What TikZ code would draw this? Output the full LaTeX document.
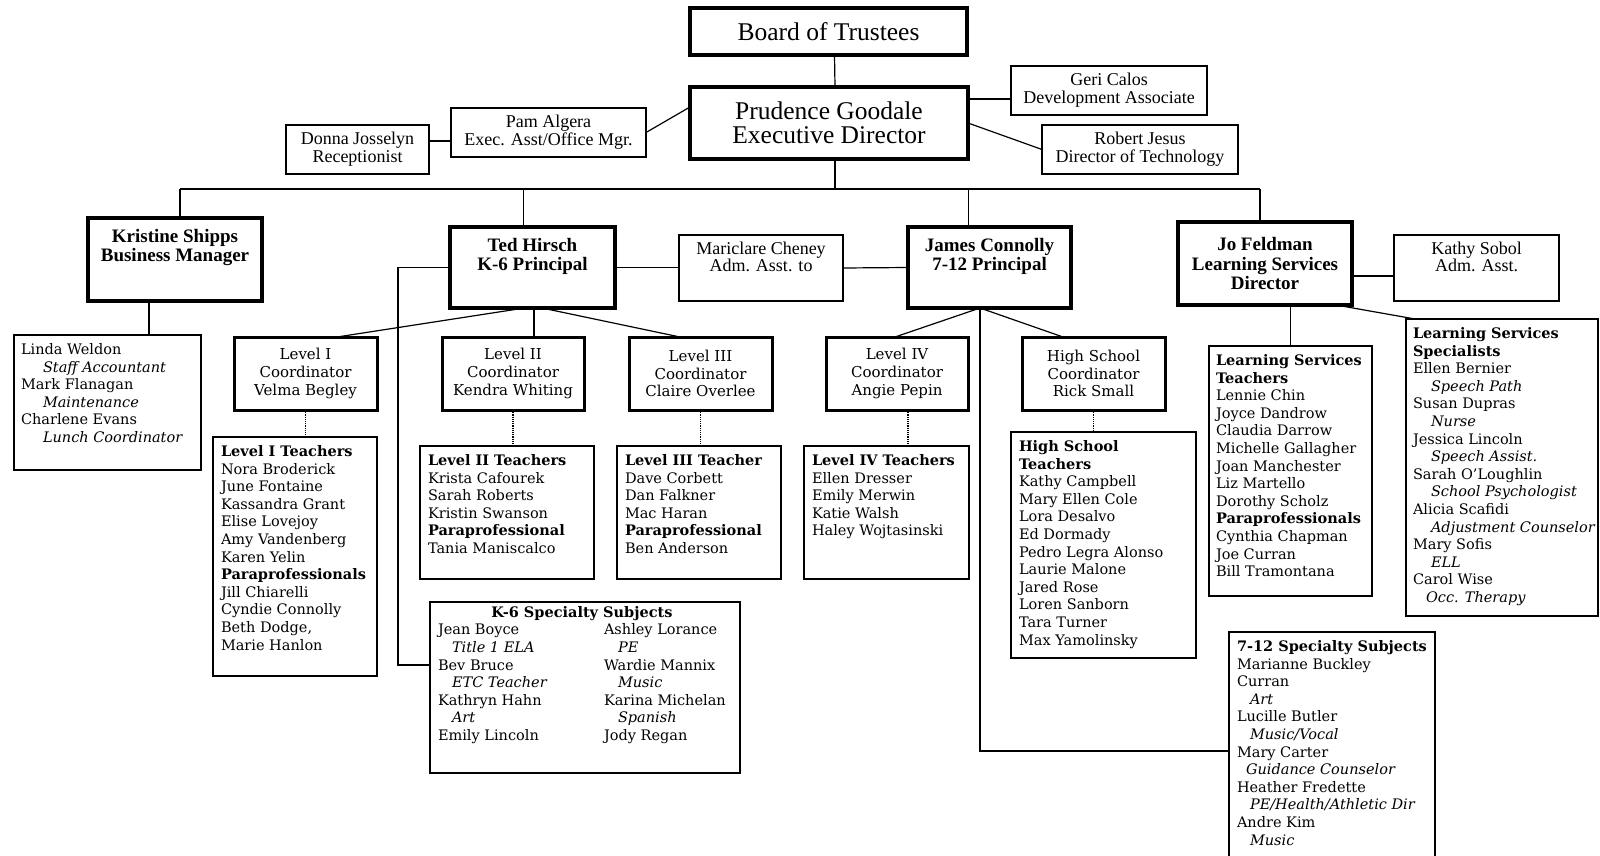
\documentclass[tikz,border=0pt]{standalone}
\usepackage{fontspec}
\setmainfont{Liberation Serif}
\newfontfamily\listfont{DejaVu Serif}
\usepackage{tikz}
\newcommand{\duty}[2][14pt]{\hspace*{#1}\textit{#2}}

\begin{document}
\begin{tikzpicture}[
    x=1pt, y=-1pt,
    every node/.style={outer sep=0pt},
    topbox/.style={rectangle, draw, line width=4pt, anchor=north west, align=center, inner sep=0pt, font=\fontsize{25.5}{24.5}\selectfont},
    headbox/.style={rectangle, draw, line width=3.3pt, anchor=north west, align=center, inner sep=0pt, font=\bfseries\fontsize{19}{19.5}\selectfont},
    thinbox/.style={rectangle, draw, line width=1.4pt, anchor=north west, align=center, inner sep=0pt, font=\fontsize{18}{18}\selectfont},
    coordbox/.style={rectangle, draw, line width=3pt, anchor=north west, align=center, inner sep=0pt, font=\listfont\fontsize{15}{17.6}\selectfont},
    listbox/.style={rectangle, draw, line width=2pt, anchor=north west, inner sep=0pt},
    headtxt/.style={anchor=north, align=center, inner xsep=0pt, inner ysep=11pt, font=\bfseries\fontsize{19}{19.5}\selectfont},
    thintxt/.style={anchor=north, align=center, inner xsep=0pt, inner ysep=7.5pt, font=\fontsize{18}{17}\selectfont},
    listtxt/.style={anchor=north west, align=left, inner xsep=8pt, inner ysep=8.5pt, font=\listfont\fontsize{14.5}{17.6}\selectfont},
    link/.style={line width=1.2pt},
    dotlink/.style={line width=1.2pt, densely dotted}
]
\useasboundingbox (0,0) rectangle (1600,856);

\node[topbox, minimum width=277pt, minimum height=47pt] (board) at (690,8) {Board of Trustees};
\node[topbox, minimum width=278pt, minimum height=72pt] (exec) at (690,87) {Prudence Goodale\\Executive Director};
\node[thinbox, minimum width=195pt, minimum height=49pt] (pam) at (451,108) {Pam Algera\\Exec. Asst/Office Mgr.};
\node[thinbox, minimum width=143pt, minimum height=49pt] (donna) at (286,125) {Donna Josselyn\\Receptionist};
\node[thinbox, minimum width=196pt, minimum height=49pt] (geri) at (1011,66) {Geri Calos\\Development Associate};
\node[thinbox, minimum width=196pt, minimum height=49pt] (robert) at (1042,125) {Robert Jesus\\Director of Technology};

\node[headbox, minimum width=174pt, minimum height=83pt] (kris) at (88,218) {};
\node[headtxt] (kris-t) at (kris.north) {Kristine Shipps\\Business Manager};
\node[headbox, minimum width=165pt, minimum height=81pt] (ted) at (450,227) {};
\node[headtxt] (ted-t) at (ted.north) {Ted Hirsch\\K-6 Principal};
\node[thinbox, minimum width=164pt, minimum height=66pt] (mari) at (679,235) {};
\node[thintxt] (mari-t) at (mari.north) {Mariclare Cheney\\Adm. Asst. to};
\node[headbox, minimum width=163pt, minimum height=81pt] (james) at (908,227) {};
\node[headtxt] (james-t) at (james.north) {James Connolly\\7-12 Principal};
\node[headbox, minimum width=174pt, minimum height=83pt] (jo) at (1178,222) {Jo Feldman\\Learning Services\\Director};
\node[thinbox, minimum width=165pt, minimum height=66pt] (kathy) at (1394,235) {};
\node[thintxt] (kathy-t) at (kathy.north) {Kathy Sobol\\Adm. Asst.};

\node[listbox, line width=1.4pt, minimum width=187pt, minimum height=135pt] (linda) at (14,335) {};
\node[listtxt, inner xsep=7pt] (linda-t) at (linda.north west) {Linda Weldon\\\duty[22pt]{Staff Accountant}\\Mark Flanagan\\\duty[22pt]{Maintenance}\\Charlene Evans\\\duty[22pt]{Lunch Coordinator}};

\node[coordbox, minimum width=143pt, minimum height=73pt] (lvl1) at (234,337) {Level I\\Coordinator\\Velma Begley};
\node[coordbox, minimum width=142pt, minimum height=73pt] (lvl2) at (442,337) {Level II\\Coordinator\\Kendra Whiting};
\node[coordbox, minimum width=143pt, minimum height=73pt] (lvl3) at (629,337) {Level III\\Coordinator\\Claire Overlee};
\node[coordbox, minimum width=142pt, minimum height=73pt] (lvl4) at (826,337) {Level IV\\Coordinator\\Angie Pepin};
\node[coordbox, minimum width=143pt, minimum height=73pt] (hsc) at (1022,337) {High School\\Coordinator\\Rick Small};

\node[listbox, minimum width=164pt, minimum height=239pt] (lvl1t) at (213,437) {};
\node[listtxt] (lvl1t-t) at (lvl1t.north west) {\textbf{Level I Teachers}\\Nora Broderick\\June Fontaine\\Kassandra Grant\\Elise Lovejoy\\Amy Vandenberg\\Karen Yelin\\\textbf{Paraprofessionals}\\Jill Chiarelli\\Cyndie Connolly\\Beth Dodge,\\Marie Hanlon};
\node[listbox, minimum width=174pt, minimum height=133pt] (lvl2t) at (420,446) {};
\node[listtxt] (lvl2t-t) at (lvl2t.north west) {\textbf{Level II Teachers}\\Krista Cafourek\\Sarah Roberts\\Kristin Swanson\\\textbf{Paraprofessional}\\Tania Maniscalco};
\node[listbox, minimum width=164pt, minimum height=133pt] (lvl3t) at (617,446) {};
\node[listtxt] (lvl3t-t) at (lvl3t.north west) {\textbf{Level III Teacher}\\Dave Corbett\\Dan Falkner\\Mac Haran\\\textbf{Paraprofessional}\\Ben Anderson};
\node[listbox, minimum width=165pt, minimum height=133pt] (lvl4t) at (804,446) {};
\node[listtxt] (lvl4t-t) at (lvl4t.north west) {\textbf{Level IV Teachers}\\Ellen Dresser\\Emily Merwin\\Katie Walsh\\Haley Wojtasinski};
\node[listbox, minimum width=185pt, minimum height=226pt] (hst) at (1011,432) {};
\node[listtxt] (hst-t) at (hst.north west) {\textbf{High School}\\\textbf{Teachers}\\Kathy Campbell\\Mary Ellen Cole\\Lora Desalvo\\Ed Dormady\\Pedro Legra Alonso\\Laurie Malone\\Jared Rose\\Loren Sanborn\\Tara Turner\\Max Yamolinsky};
\node[listbox, minimum width=163pt, minimum height=250pt] (lst) at (1209,346) {};
\node[listtxt, inner xsep=7pt] (lst-t) at (lst.north west) {\textbf{Learning Services}\\\textbf{Teachers}\\Lennie Chin\\Joyce Dandrow\\Claudia Darrow\\Michelle Gallagher\\Joan Manchester\\Liz Martello\\Dorothy Scholz\\\textbf{Paraprofessionals}\\Cynthia Chapman\\Joe Curran\\Bill Tramontana};
\node[listbox, minimum width=192pt, minimum height=297pt] (lss) at (1406,319) {};
\node[listtxt, inner xsep=7pt] (lss-t) at (lss.north west) {\textbf{Learning Services}\\\textbf{Specialists}\\Ellen Bernier\\\duty[18pt]{Speech Path}\\Susan Dupras\\\duty[18pt]{Nurse}\\Jessica Lincoln\\\duty[18pt]{Speech Assist.}\\Sarah O’Loughlin\\\duty[18pt]{School Psychologist}\\Alicia Scafidi\\\duty[18pt]{Adjustment Counselor}\\Mary Sofis\\\duty[18pt]{ELL}\\Carol Wise\\\duty[13pt]{Occ. Therapy}};

\node[listbox, line width=2.3pt, minimum width=310pt, minimum height=171pt] (k6) at (430,602) {};
\node[listtxt, inner ysep=3pt] (k6-t) at (k6.north west) {\begin{tabular}{@{}p{166pt}@{}l@{}}
\multicolumn{2}{c}{\textbf{K-6 Specialty Subjects}}\\
Jean Boyce & Ashley Lorance\\
\duty{Title 1 ELA} & \duty{PE}\\
Bev Bruce & Wardie Mannix\\
\duty{ETC Teacher} & \duty{Music}\\
Kathryn Hahn & Karina Michelan\\
\duty{Art} & \duty{Spanish}\\
Emily Lincoln & Jody Regan
\end{tabular}};
\node[listbox, minimum width=206pt, minimum height=238pt] (s712) at (1229,632) {};
\node[listtxt] (s712-t) at (s712.north west) {\textbf{7-12 Specialty Subjects}\\Marianne Buckley\\Curran\\\duty[13pt]{Art}\\Lucille Butler\\\duty[13pt]{Music/Vocal}\\Mary Carter\\\duty[9pt]{Guidance Counselor}\\Heather Fredette\\\duty[13pt]{PE/Health/Athletic Dir}\\Andre Kim\\\duty[13pt]{Music}};

\draw[link] ([xshift=6pt]board.south) -- ([xshift=6pt]exec.north);
\draw[link] ([yshift=8.5pt]donna.east) -- ([yshift=-8.5pt]pam.west);
\draw[link] (pam.east) -- ([yshift=16pt]exec.west);
\draw[link] ([yshift=24pt]exec.east) -- ([yshift=-8.5pt]geri.west);
\draw[link] (exec.east) -- (robert.west);

\coordinate (busl) at (180,189);
\coordinate (busr) at (1260,189);
\draw[link] ([xshift=6pt]exec.south) -- ([xshift=6pt]exec.south |- busl);
\draw[link] (busl) -- (busr);
\draw[link] (busl) -- (busl |- kris.north);
\draw[link] ([xshift=-9pt]ted.north |- busl) -- ([xshift=-9pt]ted.north);
\draw[link] ([xshift=-21pt]james.north |- busl) -- ([xshift=-21pt]james.north);
\draw[link] (busr) -- (busr |- jo.north);

\draw[link] ([xshift=-26pt]kris.south) -- ([xshift=-26pt]kris.south |- linda.north);
\draw[link] (ted.east) -- (ted.east -| mari.west);
\draw[link] (mari.east) -- (james.west);
\draw[link] (ted.west) -- ++(-52,0) |- ([yshift=22.5pt]k6.west);
\draw[link] ([xshift=-8pt]ted.south) -- ([xshift=31.5pt]lvl1.north);
\draw[link] ([xshift=1.5pt]ted.south) -- ([xshift=1.5pt]ted.south |- lvl2.north);
\draw[link] ([xshift=9.5pt]ted.south) -- ([xshift=-20.5pt]lvl3.north);

\draw[link] ([xshift=-9.5pt]james.south) -- ([xshift=-2pt]lvl4.north);
\draw[link] ([xshift=-9.5pt]james.south) -- ([xshift=-30.5pt]hsc.north);
\draw[link] ([xshift=-9.5pt]james.south) |- (s712.west);

\draw[link] (lst.north) -- (lst.north |- jo.south);
\draw[link] ([xshift=71pt]jo.south) -- ([xshift=9pt]lss.north west);
\draw[link] ([yshift=-12.5pt]jo.east) -- ([yshift=-8pt]kathy.west);

\draw[dotlink] (lvl1.south) -- (lvl1.south |- lvl1t.north);
\draw[dotlink] (lvl2.south) -- (lvl2.south |- lvl2t.north);
\draw[dotlink] (lvl3.south) -- (lvl3.south |- lvl3t.north);
\draw[dotlink] ([xshift=11pt]lvl4.south) -- ([xshift=11pt]lvl4.south |- lvl4t.north);
\draw[dotlink] (hsc.south) -- (hsc.south |- hst.north);
\end{tikzpicture}
\end{document}
